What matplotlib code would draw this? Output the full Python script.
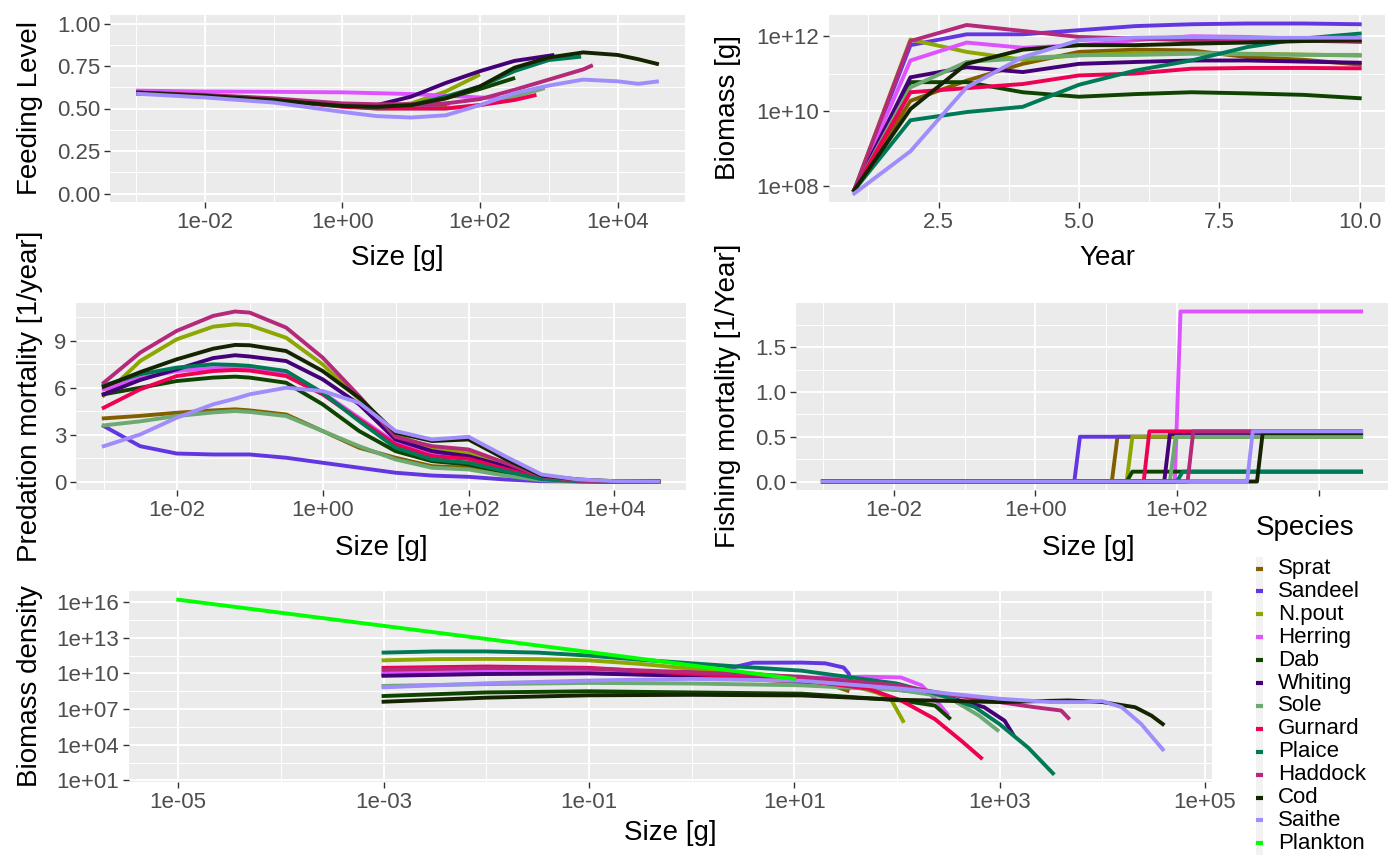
import numpy as np
import matplotlib.pyplot as plt
from matplotlib.ticker import FixedLocator, FuncFormatter, FixedFormatter, NullFormatter
from matplotlib.lines import Line2D
from matplotlib.patches import Rectangle

plt.rcParams['font.family'] = ['Liberation Sans', 'DejaVu Sans']

species = ['Sprat', 'Sandeel', 'N.pout', 'Herring', 'Dab', 'Whiting', 'Sole',
           'Gurnard', 'Plaice', 'Haddock', 'Cod', 'Saithe']
colours = ['#815f00', '#6237e2', '#8da600', '#de53ff', '#0e4300', '#430079',
           '#6caa72', '#ee0053', '#007957', '#b42979', '#142300', '#a08dfb']
plankton_colour = '#00ff00'

# feeding level (sizes as log10 grams)
feed_logw = [
    [-3, -2, -1, 0, 0.5, 1, 1.52],
    [-3, -2, -1, 0, 0.5, 1, 1.56],
    [-3, -2, -1, 0, 0.5, 1, 1.5, 2.0],
    [-3, -2, -1, 0, 0.5, 1, 1.5, 2, 2.52],
    [-3, -2, -1, 0, 0.5, 1, 1.5, 2, 2.51],
    [-3, -2, -1, 0, 0.5, 1, 1.5, 2, 2.5, 3.08],
    [-3, -2, -1, 0, 0.5, 1, 1.5, 2, 2.5, 2.94],
    [-3, -2, -1, 0, 0.5, 1, 1.5, 2, 2.5, 2.82],
    [-3, -2, -1, 0, 0.5, 1, 1.5, 2, 2.5, 3, 3.47],
    [-3, -2, -1, 0, 0.5, 1, 1.5, 2, 2.5, 3, 3.5, 3.64],
    [-3, -2, -1, 0, 0.5, 1, 1.5, 2, 2.5, 3, 3.5, 4, 4.3, 4.6],
    [-3, -2, -1, 0, 0.5, 1, 1.5, 2, 2.5, 3, 3.5, 4, 4.3, 4.6],
]
feed_level = [
    [0.59, 0.575, 0.55, 0.515, 0.51, 0.51, 0.52],
    [0.59, 0.575, 0.55, 0.515, 0.51, 0.51, 0.53],
    [0.59, 0.575, 0.55, 0.515, 0.51, 0.53, 0.60, 0.70],
    [0.605, 0.60, 0.598, 0.595, 0.59, 0.585, 0.575, 0.565, 0.557],
    [0.59, 0.575, 0.55, 0.515, 0.51, 0.52, 0.56, 0.615, 0.68],
    [0.59, 0.575, 0.55, 0.515, 0.52, 0.57, 0.65, 0.72, 0.78, 0.815],
    [0.59, 0.575, 0.55, 0.515, 0.50, 0.50, 0.50, 0.52, 0.57, 0.62],
    [0.59, 0.575, 0.55, 0.51, 0.50, 0.50, 0.50, 0.52, 0.55, 0.58],
    [0.59, 0.575, 0.55, 0.515, 0.51, 0.52, 0.57, 0.63, 0.72, 0.785, 0.805],
    [0.595, 0.58, 0.56, 0.53, 0.525, 0.525, 0.53, 0.555, 0.61, 0.67, 0.73, 0.755],
    [0.594, 0.575, 0.55, 0.515, 0.51, 0.52, 0.56, 0.63, 0.74, 0.80, 0.83, 0.815, 0.79, 0.76],
    [0.587, 0.565, 0.535, 0.48, 0.455, 0.447, 0.46, 0.52, 0.59, 0.635, 0.67, 0.66, 0.645, 0.66],
]

# biomass through time (log10 grams)
years = [1, 2, 3, 4, 5, 6, 7, 8, 9, 10]
biomass_log = [
    [7.88, 10.27, 10.81, 11.26, 11.58, 11.64, 11.62, 11.44, 11.37, 11.24],
    [7.88, 11.76, 12.05, 12.05, 12.16, 12.27, 12.32, 12.34, 12.34, 12.32],
    [7.88, 11.91, 11.58, 11.37, 11.49, 11.55, 11.55, 11.53, 11.51, 11.48],
    [7.88, 11.35, 11.83, 11.69, 11.76, 11.89, 12.00, 11.98, 11.93, 11.85],
    [7.88, 10.77, 10.77, 10.50, 10.38, 10.45, 10.50, 10.47, 10.43, 10.34],
    [7.88, 10.90, 11.17, 11.04, 11.26, 11.31, 11.35, 11.35, 11.32, 11.29],
    [7.88, 10.63, 11.31, 11.41, 11.49, 11.50, 11.53, 11.52, 11.50, 11.50],
    [7.88, 10.50, 10.61, 10.72, 10.95, 11.00, 11.13, 11.15, 11.15, 11.14],
    [7.88, 9.75, 9.97, 10.11, 10.70, 11.08, 11.35, 11.71, 11.94, 12.07],
    [7.88, 11.87, 12.30, 12.14, 11.98, 11.94, 11.89, 11.89, 11.88, 11.85],
    [7.88, 10.05, 11.26, 11.64, 11.76, 11.76, 11.80, 11.83, 11.87, 11.89],
    [7.79, 8.92, 10.63, 11.44, 11.89, 11.96, 11.98, 11.96, 11.96, 11.96],
]

# predation mortality
pred_logw = [-3, -2.5, -2, -1.5, -1.2, -1, -0.5, 0, 0.5, 1, 1.5, 2, 2.5, 3, 3.5, 4, 4.6]
pred_mort = [
    [4.04, 4.2, 4.4, 4.55, 4.62, 4.55, 4.29, 3.23, 2.16, 1.52, 0.98, 0.88, 0.45, 0.1, 0.02, 0, 0],
    [3.55, 2.26, 1.79, 1.73, 1.73, 1.73, 1.52, 1.2, 0.88, 0.56, 0.38, 0.3, 0.13, 0.02, 0, 0, 0],
    [5.5, 7.71, 9.1, 9.91, 10.06, 10.0, 9.2, 7.5, 5.26, 2.95, 2.16, 1.84, 1.09, 0.3, 0.05, 0, 0],
    [5.9, 6.6, 7.07, 7.25, 7.29, 7.2, 6.86, 5.68, 4.08, 2.48, 1.73, 1.52, 0.88, 0.2, 0.03, 0, 0],
    [5.58, 6.0, 6.43, 6.65, 6.71, 6.65, 6.32, 4.94, 3.23, 1.94, 1.3, 1.09, 0.6, 0.12, 0.02, 0, 0],
    [5.58, 6.5, 7.18, 7.9, 8.08, 8.0, 7.71, 6.54, 4.94, 2.69, 1.94, 1.62, 0.98, 0.24, 0.04, 0, 0],
    [3.59, 3.85, 4.19, 4.42, 4.51, 4.45, 4.19, 3.23, 2.26, 1.41, 0.88, 0.77, 0.38, 0.08, 0.01, 0, 0],
    [4.72, 5.9, 6.75, 7.07, 7.14, 7.1, 6.75, 5.58, 3.97, 2.37, 1.62, 1.45, 0.81, 0.18, 0.03, 0, 0],
    [6.15, 6.86, 7.29, 7.5, 7.46, 7.4, 7.07, 5.68, 3.87, 2.16, 1.41, 1.2, 0.66, 0.15, 0.02, 0, 0],
    [6.32, 8.25, 9.64, 10.6, 10.88, 10.81, 9.85, 7.93, 5.47, 2.85, 2.26, 2.05, 1.2, 0.34, 0.05, 0, 0],
    [6.07, 7.0, 7.82, 8.5, 8.74, 8.72, 8.35, 7.07, 5.36, 3.12, 2.59, 2.69, 1.45, 0.38, 0.13, 0.02, 0],
    [2.26, 3.01, 4.08, 4.94, 5.3, 5.58, 6.0, 5.79, 5.04, 3.23, 2.69, 2.86, 1.62, 0.45, 0.13, 0.02, 0],
]

# fishing mortality: knife edge selectivity
fish_range = [-3, 4.6]
fish_edge_lo = [1.08, 0.55, 1.29, 1.97, 1.29, 1.82, 1.90, 1.53, 2.00, 2.15, 3.13, 2.99]
fish_edge_hi = [1.16, 0.63, 1.37, 2.05, 1.37, 1.90, 1.98, 1.61, 2.08, 2.23, 3.21, 3.07]
fish_f = [0.50, 0.50, 0.50, 1.90, 0.11, 0.53, 0.50, 0.56, 0.11, 0.56, 0.54, 0.56]

# biomass density (log10 size, log10 density)
dens_logw = [
    [-3, -2, -1, 0, 1, 1.4, 1.52],
    [-3, -2, -1, 0, 0.3, 0.6, 1.07, 1.3, 1.48, 1.53, 1.56],
    [-3, -2.5, -2, -1.5, -1, -0.5, 0, 0.5, 1, 1.5, 1.8, 1.94, 2.06],
    [-3, -2, -1, 0, 1, 1.7, 2.04, 2.24, 2.37, 2.49],
    [-3, -2, -1, 0, 1.07, 2.04, 2.37, 2.51],
    [-3, -2, -1, 0, 1, 1.7, 2.37, 2.85, 3.05, 3.13],
    [-3, -2, -1, 0, 1.07, 2.04, 2.5, 2.8, 2.98],
    [-3, -2, -1, 0, 1.07, 1.72, 2.04, 2.37, 2.63, 2.82],
    [-3, -2.5, -2, -1.5, -1, -0.5, 0, 0.5, 1.07, 2.0, 2.5, 2.76, 3.0, 3.28, 3.52],
    [-3, -2, -1, 0, 1.07, 2.0, 2.5, 3.0, 3.34, 3.6, 3.67],
    [-3, -2, -1, 0, 1.07, 2.04, 3.0, 3.67, 4.0, 4.32, 4.48, 4.59],
    [-3, -2, -1, 0, 1.07, 2.04, 3.0, 3.5, 3.83, 4.0, 4.19, 4.38, 4.59],
]
dens_log = [
    [9.9, 10.05, 10.05, 9.8, 9.3, 8.9, 8.55],
    [9.9, 10.0, 10.05, 10.15, 10.3, 10.9, 10.91, 10.85, 10.5, 10.0, 9.3],
    [11.1, 11.2, 11.22, 11.2, 11.1, 10.8, 10.4, 10.05, 9.7, 9.1, 8.4, 7.87, 6.0],
    [10.1, 10.25, 10.2, 9.95, 9.6, 9.72, 9.66, 9.0, 7.87, 6.6],
    [8.1, 8.4, 8.5, 8.4, 8.3, 7.73, 7.3, 6.25],
    [9.8, 9.95, 10.0, 9.8, 9.4, 8.9, 8.3, 7.16, 6.02, 4.89],
    [8.95, 9.1, 9.2, 9.15, 9.0, 8.58, 8.0, 6.45, 5.23],
    [10.47, 10.58, 10.47, 9.96, 9.43, 8.72, 7.73, 6.16, 4.32, 2.9],
    [11.75, 11.85, 11.85, 11.75, 11.5, 11.15, 10.85, 10.55, 10.23, 9.15, 8.0, 7.16, 5.74, 3.75, 1.6],
    [10.3, 10.45, 10.4, 10.1, 9.72, 9.0, 8.24, 7.59, 7.16, 6.88, 6.25],
    [7.62, 7.96, 8.16, 8.2, 8.15, 7.78, 7.59, 7.73, 7.59, 7.16, 6.45, 5.74],
    [8.83, 9.17, 9.4, 9.54, 9.38, 8.72, 7.87, 7.59, 7.59, 7.67, 7.16, 5.74, 3.61],
]
plankton_logw = [-5, -3, -1, 1]
plankton_log = [16.2, 14.0, 11.8, 9.55]

W, H = 1400, 865
fig = plt.figure(figsize=(14, 8.65), dpi=100)
LW = 2.8


def panel(l, t, r, b):
    ax = fig.add_axes([l / W, 1 - b / H, (r - l) / W, (b - t) / H])
    ax.set_facecolor('#EBEBEB')
    for s in ax.spines.values():
        s.set_visible(False)
    ax.set_axisbelow(True)
    ax.grid(which='major', color='white', lw=1.4)
    ax.grid(which='minor', color='white', lw=0.7)
    ax.tick_params(which='major', length=4, width=1.0, color='#333333',
                   labelsize=16, labelcolor='#4D4D4D', pad=3)
    ax.tick_params(which='minor', length=0)
    return ax


def labels(ax, xlab, ylab, xpos, ypos):
    ax.set_xlabel(xlab, fontsize=20)
    ax.set_ylabel(ylab, fontsize=20)
    ax.xaxis.set_label_coords(xpos[0] / W, 1 - xpos[1] / H, transform=fig.transFigure)
    ax.yaxis.set_label_coords(ypos[0] / W, 1 - ypos[1] / H, transform=fig.transFigure)
    ax.xaxis.label.set_va('center')
    ax.yaxis.label.set_va('center')


def expand(lo, hi):
    pad = 0.05 * (hi - lo)
    return lo - pad, hi + pad


def log_axis(axis, major, minor):
    axis.set_major_locator(FixedLocator([10.0 ** e for e in major]))
    axis.set_minor_locator(FixedLocator([10.0 ** e for e in minor]))
    axis.set_major_formatter(FuncFormatter(lambda v, p: f'{v:.0e}'))
    axis.set_minor_formatter(NullFormatter())


def loglim(vals):
    lo, hi = expand(min(vals), max(vals))
    return 10.0 ** lo, 10.0 ** hi


# --- feeding level
ax1 = panel(110, 15, 685, 202)
for i, sp in enumerate(species):
    ax1.plot(10.0 ** np.array(feed_logw[i]), feed_level[i], color=colours[i], lw=LW,
             solid_capstyle='butt')
ax1.set_xscale('log')
log_axis(ax1.xaxis, [-2, 0, 2, 4], [-3, -1, 1, 3, 5])
ax1.set_xlim(loglim([v for row in feed_logw for v in row]))
ax1.set_ylim(expand(0, 1))
ax1.yaxis.set_major_locator(FixedLocator([0, 0.25, 0.5, 0.75, 1.0]))
ax1.yaxis.set_minor_locator(FixedLocator([0.125, 0.375, 0.625, 0.875]))
ax1.yaxis.set_major_formatter(FuncFormatter(lambda v, p: f'{v:.2f}'))
labels(ax1, 'Size [g]', 'Feeding Level', (397, 258), (30, 108))

# --- biomass through time
ax2 = panel(829, 15, 1385, 202)
for i, sp in enumerate(species):
    ax2.plot(years, 10.0 ** np.array(biomass_log[i]), color=colours[i], lw=LW)
ax2.set_yscale('log')
log_axis(ax2.yaxis, [8, 10, 12], [7, 9, 11, 13])
ax2.set_ylim(loglim([v for row in biomass_log for v in row]))
ax2.set_xlim(expand(min(years), max(years)))
ax2.xaxis.set_major_locator(FixedLocator([2.5, 5.0, 7.5, 10.0]))
ax2.xaxis.set_minor_locator(FixedLocator([1.25, 3.75, 6.25, 8.75]))
ax2.xaxis.set_major_formatter(FuncFormatter(lambda v, p: f'{v:.1f}'))
labels(ax2, 'Year', 'Biomass [g]', (1107, 258), (728, 108))

# --- predation mortality
ax3 = panel(76, 303, 686, 490)
pw = 10.0 ** np.array(pred_logw)
for i, sp in enumerate(species):
    ax3.plot(pw, pred_mort[i], color=colours[i], lw=LW)
ax3.set_xscale('log')
log_axis(ax3.xaxis, [-2, 0, 2, 4], [-3, -1, 1, 3, 5])
ax3.set_xlim(loglim(pred_logw))
ax3.set_ylim(expand(0, max(max(r) for r in pred_mort)))
ax3.yaxis.set_major_locator(FixedLocator([0, 3, 6, 9]))
ax3.yaxis.set_minor_locator(FixedLocator([1.5, 4.5, 7.5, 10.5]))
ax3.yaxis.set_major_formatter(FuncFormatter(lambda v, p: f'{v:.0f}'))
labels(ax3, 'Size [g]', 'Predation mortality [1/year]', (381, 548), (30, 396))

# --- fishing mortality
ax4 = panel(796, 303, 1388, 490)
for i, sp in enumerate(species):
    xs = [fish_range[0], fish_edge_lo[i], fish_edge_hi[i], fish_range[1]]
    ys = [0, 0, fish_f[i], fish_f[i]]
    ax4.plot(10.0 ** np.array(xs), ys, color=colours[i], lw=LW)
ax4.set_xscale('log')
log_axis(ax4.xaxis, [-2, 0, 2, 4], [-3, -1, 1, 3, 5])
# the last label sits under the legend box in the original
ax4.xaxis.set_major_formatter(FixedFormatter(['1e-02', '1e+00', '1e+02', '']))
ax4.set_xlim(loglim(fish_range))
ax4.set_ylim(expand(0, max(fish_f)))
ax4.yaxis.set_major_locator(FixedLocator([0, 0.5, 1.0, 1.5]))
ax4.yaxis.set_minor_locator(FixedLocator([0.25, 0.75, 1.25, 1.75]))
ax4.yaxis.set_major_formatter(FuncFormatter(lambda v, p: f'{v:.1f}'))
labels(ax4, 'Size [g]', 'Fishing mortality [1/Year]', (1088, 548), (728, 396))

# --- biomass density
ax5 = panel(129, 591, 1212, 782)
for i, sp in enumerate(species):
    ax5.plot(10.0 ** np.array(dens_logw[i]), 10.0 ** np.array(dens_log[i]),
             color=colours[i], lw=LW)
ax5.plot(10.0 ** np.array(plankton_logw), 10.0 ** np.array(plankton_log),
         color=plankton_colour, lw=LW)
ax5.set_xscale('log')
ax5.set_yscale('log')
log_axis(ax5.xaxis, [-5, -3, -1, 1, 3, 5], [-4, -2, 0, 2, 4])
log_axis(ax5.yaxis, [1, 4, 7, 10, 13, 16], [2.5, 5.5, 8.5, 11.5, 14.5])
all_w = [v for row in dens_logw for v in row] + plankton_logw
all_d = [v for row in dens_log for v in row] + plankton_log
ax5.set_xlim(loglim(all_w))
ax5.set_ylim(loglim(all_d))
labels(ax5, 'Size [g]', 'Biomass density', (670, 833), (30, 686))

# --- legend
fig.add_artist(Rectangle((1240 / W, 0), 160 / W, 1 - 498 / H, transform=fig.transFigure,
                         facecolor='white', edgecolor='none', zorder=5))
fig.text(1256 / W, 1 - 528 / H, 'Species', fontsize=20, va='center', ha='left', zorder=7)
names = species + ['Plankton']
cols = colours + [plankton_colour]
y0, dy = 568.5, 22.9
fig.add_artist(Rectangle((1255.5 / W, 1 - (y0 + dy * 12.5) / H), 7.5 / W, dy * 13 / H,
                         transform=fig.transFigure, facecolor='#F2F2F2',
                         edgecolor='none', zorder=6))
for i, (nm, c) in enumerate(zip(names, cols)):
    y = 1 - (y0 + dy * i) / H
    fig.add_artist(Line2D([1256 / W, 1263 / W], [y, y], color=c, lw=3,
                          solid_capstyle='butt', transform=fig.transFigure, zorder=7))
    fig.text(1278 / W, y, nm, fontsize=16, va='center', ha='left', zorder=7)

fig.savefig('out.png', dpi=100)
